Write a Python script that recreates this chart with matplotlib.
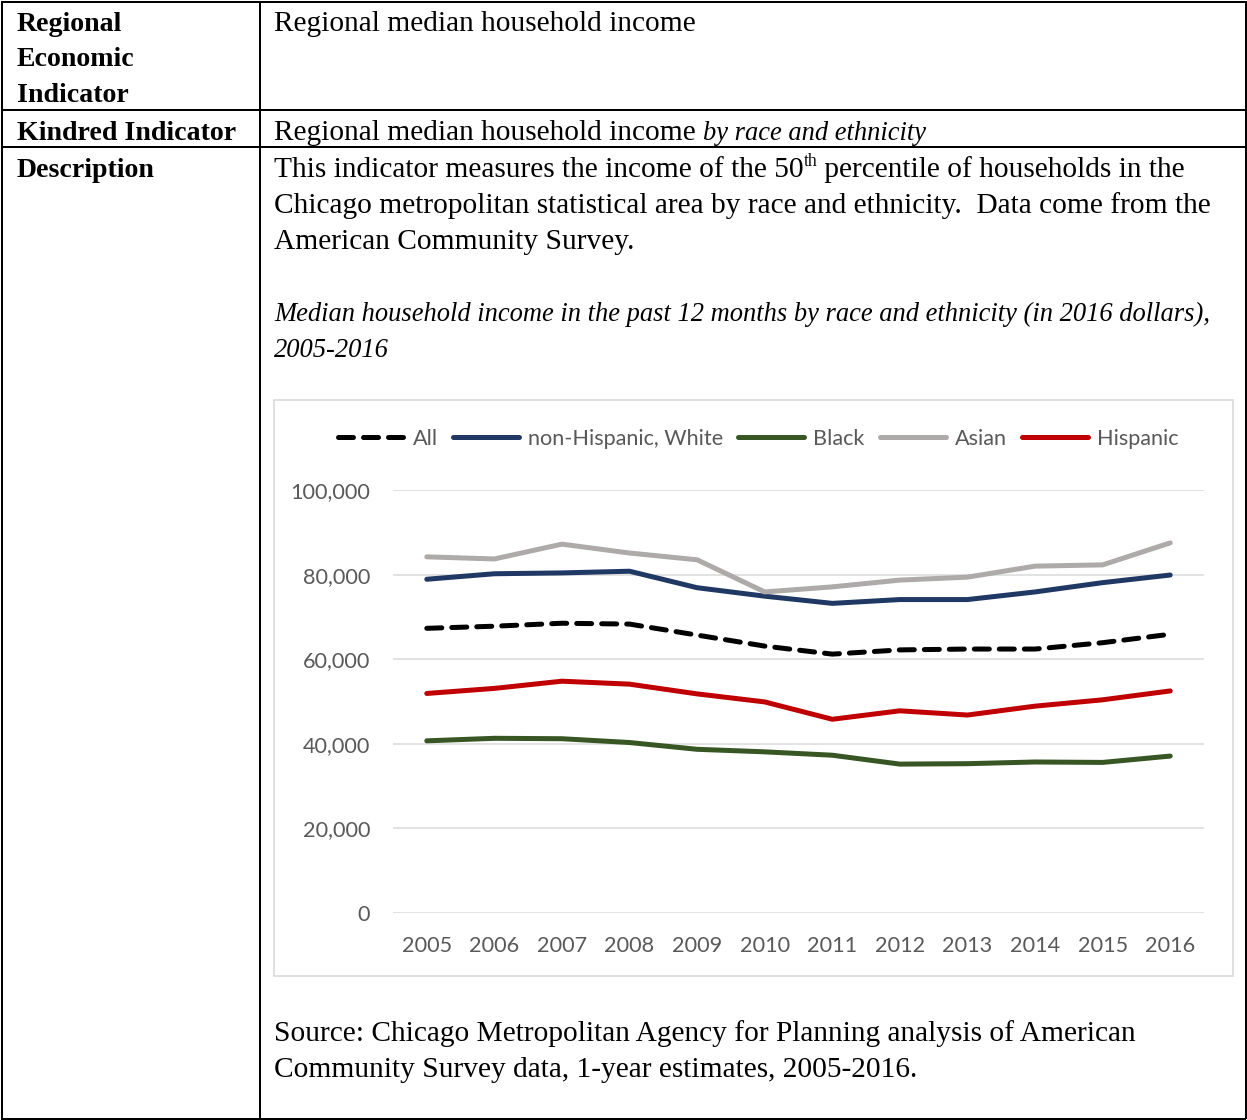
import matplotlib
matplotlib.use('Agg')
import matplotlib.pyplot as plt
from matplotlib.patches import Rectangle
from matplotlib.lines import Line2D
from matplotlib.ticker import FuncFormatter
import numpy as np

# ---------------- data ----------------
years = [2005, 2006, 2007, 2008, 2009, 2010, 2011, 2012, 2013, 2014, 2015, 2016]
all_hh = [67300, 67800, 68500, 68300, 65700, 63100, 61200, 62200, 62400, 62400, 63900, 65900]
white = [78900, 80200, 80400, 80800, 76900, 74900, 73200, 74100, 74100, 75900, 78100, 79900]
black = [40700, 41300, 41200, 40300, 38700, 38100, 37300, 35200, 35300, 35700, 35600, 37100]
asian = [84200, 83700, 87200, 85100, 83500, 75900, 77100, 78700, 79400, 82000, 82300, 87500]
hispanic = [51900, 53100, 54800, 54100, 51800, 49900, 45800, 47800, 46800, 48900, 50400, 52500]
series_names = ["All", "non-Hispanic, White", "Black", "Asian", "Hispanic"]
y_ticks = [0, 20000, 40000, 60000, 80000, 100000]

# ---------------- figure ----------------
W, H = 1247, 1120
fig = plt.figure(figsize=(W / 100, H / 100), dpi=100)
bg = fig.add_axes([0, 0, 1, 1])
bg.set_xlim(0, W)
bg.set_ylim(H, 0)
bg.axis('off')
r = fig.canvas.get_renderer()

PX = 72 / 100  # points per pixel


def measure(s, **kw):
    t = bg.text(0, 0, s + '|', **kw)
    a = t.get_window_extent(r).width
    t.remove()
    t = bg.text(0, 0, '|', **kw)
    b = t.get_window_extent(r).width
    t.remove()
    return a - b


SERIF = 'Liberation Serif'
fs = 10 * 423 / measure("Regional median household income", family=SERIF, size=10)
fs_px = fs / PX
fs_b = 10 * 219 / measure("Kindred Indicator", family=SERIF, size=10, weight='bold')
fs_i = 10 * 941 / measure("Median household income in the past 12 months by race and ethnicity (in 2016 dollars),",
                          family=SERIF, size=10, style='italic')

SANS = 'Lato'
cfs = 10 * 196 / measure("non-Hispanic, White", family=SANS, size=10)
cfs_px = cfs / PX


def runs(x, y, parts):
    for s, kw in parts:
        kw2 = dict(family=SERIF, size=fs, color='black')
        kw2.update(kw)
        dy = kw2.pop('dy', 0)
        bg.text(x, y - dy, s, va='baseline', ha='left', **kw2)
        x += measure(s, **kw2)


# table lines
lw_tab = 2 * PX
for (x0, x1, y0, y1) in [(1, 1246, 1.5, 1.5), (1, 1246, 1118.5, 1118.5),
                         (2, 2, 1, 1119), (1245.5, 1245.5, 1, 1119),
                         (260, 260, 1, 1119), (1, 1246, 110, 110),
                         (1, 1246, 146.5, 146.5)]:
    bg.add_line(Line2D([x0, x1], [y0, y1], color='black', lw=lw_tab,
                       solid_capstyle='butt'))

bold = dict(weight='bold', size=fs_b)
ital = dict(style='italic', size=fs_i)
D = 2
runs(17, 29 + D, [("Regional", bold)])
runs(17, 64 + D, [("Economic", bold)])
runs(17, 100 + D, [("Indicator", bold)])
runs(17, 138 + D, [("Kindred Indicator", bold)])
runs(17, 175 + D, [("Description", bold)])

X0 = 274
runs(X0, 29 + D, [("Regional median household income", {})])
runs(X0, 138 + D, [("Regional median household income ", {}),
                   ("by race and ethnicity", ital)])
runs(X0, 175 + D, [("This indicator measures the income of the 50", {}),
                   ("th", dict(size=fs * 0.6, dy=fs_px * 0.38)),
                   (" percentile of households in the", {})])
runs(X0, 211 + D, [("Chicago metropolitan statistical area by race and ethnicity.  Data come from the", {})])
runs(X0, 247 + D, [("American Community Survey.", {})])
runs(X0, 319 + D, [("Median household income in the past 12 months by race and ethnicity (in 2016 dollars),",
                    ital)])
runs(X0, 355 + D, [("2005-2016", ital)])
runs(X0, 1039 + D, [("Source: Chicago Metropolitan Agency for Planning analysis of American", {})])
runs(X0, 1075 + D, [("Community Survey data, 1-year estimates, 2005-2016.", {})])

# chart border
bg.add_patch(Rectangle((274, 400), 959, 575.5, fill=False, edgecolor='#d9d9d9',
                       lw=1.6 * PX))

# ---------------- chart ----------------
ax = fig.add_axes([393 / W, 1 - 913 / H, (1204 - 393) / W, (913 - 490) / H])
ax.set_facecolor('none')
xs = np.arange(len(years))
LW = 5 * PX
colors = ['black', '#203864', '#375623', '#AEAAAA', '#C00000']
data = [all_hh, white, black, asian, hispanic]
handles = []
for i, (name, vals, c) in enumerate(zip(series_names, data, colors)):
    if i == 0:
        ln, = ax.plot(xs, vals, color=c, lw=LW, dashes=(3, 2),
                      dash_capstyle='round', label=name, clip_on=False, zorder=3 + i)
    else:
        ln, = ax.plot(xs, vals, color=c, lw=LW, solid_capstyle='round',
                      solid_joinstyle='round', label=name, clip_on=False, zorder=3 + i)
    handles.append(ln)

ax.set_xlim(-0.5, len(years) - 0.5)
ax.set_ylim(0, 100000)
ax.set_yticks(y_ticks)
ax.yaxis.set_major_formatter(FuncFormatter(lambda v, p: f"{int(v):,}"))
ax.set_xticks(xs)
ax.set_xticklabels([str(y) for y in years])
ax.grid(axis='y', color='#d9d9d9', lw=1.5 * PX)
ax.set_axisbelow(True)
for s in ax.spines.values():
    s.set_visible(False)
ax.tick_params(axis='both', length=0, labelsize=cfs, colors='#595959')
ax.tick_params(axis='y', pad=23 * PX)
ax.tick_params(axis='x', pad=23 * PX)
for lab in ax.get_xticklabels() + ax.get_yticklabels():
    lab.set_family(SANS)

leg = ax.legend(handles=handles, ncol=5, loc='center',
                bbox_to_anchor=(758 / W, 1 - 439 / H), bbox_transform=fig.transFigure,
                frameon=False, handlelength=66 / cfs_px, handletextpad=9 / cfs_px,
                columnspacing=15 / cfs_px, borderpad=0, borderaxespad=0,
                prop=dict(family=SANS, size=cfs))
for t in leg.get_texts():
    t.set_color('#595959')

fig.savefig('out.png', dpi=100)
